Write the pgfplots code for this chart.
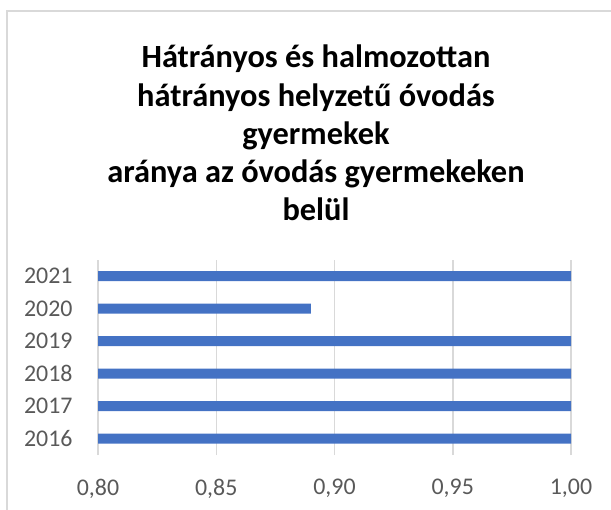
\documentclass[border=0pt]{standalone}
\usepackage{pgfplots}
\pgfplotsset{compat=1.18}
\usepackage{fontspec}
\setmainfont{Carlito}
\definecolor{barblue}{HTML}{4472C4}
\definecolor{gridgray}{HTML}{D9D9D9}
\definecolor{ticktext}{HTML}{595959}
\begin{document}
\begin{tikzpicture}
\path[use as bounding box] (0,0) rectangle (611bp,510bp);
\draw[gridgray, line width=1.5bp] (7bp,0) -- (7bp,499bp) -- (611bp,499bp);
\node[align=center, font=\bfseries\fontsize{32.5}{38.3}\selectfont, text=black] at (316bp,377bp)
{Hátrányos és halmozottan\\hátrányos helyzetű óvodás\\gyermekek\\aránya az óvodás gyermekeken\\belül};
\begin{axis}[
  at={(98bp,55bp)}, anchor=south west,
  width=473bp, height=195bp, scale only axis,
  xmin=0.8, xmax=1.0, ymin=-0.5, ymax=5.5,
  xbar, bar width=10bp, bar shift=0pt,
  axis line style={draw=none},
  xtick={0.8,0.85,0.9,0.95,1.0},
  ytick={0,1,2,3,4,5},
  yticklabels={2016,2017,2018,2019,2020,2021},
  major tick style={draw=none},
  xmajorgrids, major grid style={gridgray, line width=1.5bp},
  /pgf/number format/.cd, fixed, fixed zerofill, precision=2, use comma, assume math mode=true,
  /pgfplots/.cd,
  ticklabel style={font=\fontsize{24}{28}\selectfont, text=ticktext, inner sep=0pt},
  xticklabel style={anchor=north, yshift=-24bp},
  yticklabel style={anchor=east, xshift=-21bp},
]
\draw[gridgray, line width=1.5bp] (axis cs:0.8,-0.5) -- (axis cs:0.8,5.5);
\addplot[fill=barblue, draw=none] coordinates {
  (1.00,0) (1.00,1) (1.00,2) (1.00,3) (0.89,4) (1.00,5)
};
\end{axis}
\end{tikzpicture}
\end{document}
